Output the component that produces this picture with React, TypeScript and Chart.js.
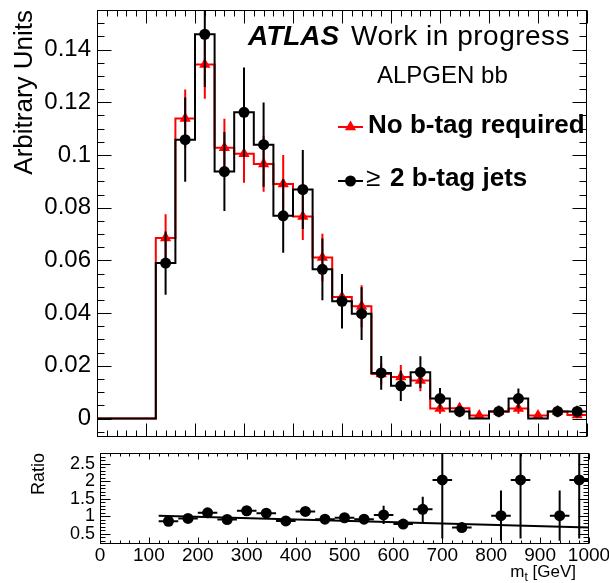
import React, { useEffect, useRef } from 'react';
import { Chart, registerables } from 'chart.js';

Chart.register(...registerables);

const FONT = '"Liberation Sans", Arial, Helvetica, sans-serif';

// ---- data (GeV bins of width 40) ----
const binCenters = [20, 60, 100, 140, 180, 220, 260, 300, 340, 380, 420, 460, 500, 540, 580, 620, 660, 700, 740, 780, 820, 860, 900, 940, 980];
const binHalfWidth = 20;

const noTagValues = [0, 0, 0, 0.0685, 0.1138, 0.1343, 0.1027, 0.1005, 0.0966, 0.089, 0.0767, 0.0611, 0.0461, 0.0426, 0.0169, 0.0158, 0.0144, 0.0038, 0.0039, 0.0012, 0.0027, 0.0038, 0.0012, 0.0027, 0.0013];
const noTagErrors = [0, 0, 0, 0.009, 0.011, 0.013, 0.011, 0.011, 0.0106, 0.011, 0.009, 0.009, 0.008, 0.008, 0.004, 0.0045, 0.004, 0.002, 0.002, 0.0012, 0.0017, 0.002, 0.0012, 0.0017, 0.0012];

const twoTagValues = [0, 0, 0, 0.059, 0.1058, 0.1458, 0.0937, 0.1162, 0.1039, 0.0769, 0.0869, 0.0566, 0.0445, 0.0398, 0.0173, 0.0124, 0.0176, 0.0076, 0.0027, 0, 0.0027, 0.0076, 0, 0.0027, 0.0027];
const twoTagErrors = [0, 0, 0, 0.012, 0.016, 0.02, 0.015, 0.017, 0.016, 0.014, 0.015, 0.0117, 0.0103, 0.01, 0.0064, 0.0057, 0.006, 0.004, 0.0022, 0, 0.0022, 0.0038, 0, 0.0022, 0.0022];

const ratioCenters = [140, 180, 220, 260, 300, 340, 380, 420, 460, 500, 540, 580, 620, 660, 700, 740, 820, 860, 940, 980];
const ratioValues = [0.86, 0.94, 1.1, 0.91, 1.16, 1.09, 0.87, 1.14, 0.92, 0.96, 0.92, 1.04, 0.78, 1.2, 2.04, 0.68, 1.02, 2.04, 1.02, 2.04];
const ratioErrors = [0.06, 0.06, 0.07, 0.07, 0.08, 0.08, 0.08, 0.09, 0.09, 0.1, 0.1, 0.26, 0.1, 0.36, 1.67, 0.1, 0.72, 1.67, 0.72, 1.67];

const fitX = [120, 1000];
const fitY = [1.02, 0.68];

const mainYTicks = [0, 0.02, 0.04, 0.06, 0.08, 0.1, 0.12, 0.14];
const ratioYTicks = [0.5, 1, 1.5, 2, 2.5];
const xTickValues = [0, 100, 200, 300, 400, 500, 600, 700, 800, 900, 1000];

const RED = '#ff0000';
const BLACK = '#000000';

// ---- helpers building Chart.js data from the arrays ----
const last = binCenters.length - 1;
const stepData = (vals: number[]) => [
  ...binCenters.map((c, i) => ({ x: c - binHalfWidth, y: vals[i] })),
  { x: binCenters[last] + binHalfWidth, y: vals[last] },
];
const markerData = (xs: number[], vals: number[]) =>
  xs.map((c, i) => ({ x: c, y: vals[i] > 0 ? vals[i] : null }));
const vErrData = (xs: number[], vals: number[], errs: number[]) =>
  xs.flatMap((c, i) =>
    vals[i] > 0 ? [{ x: c, y: vals[i] - errs[i] }, { x: c, y: vals[i] + errs[i] }, { x: c, y: null }] : []
  );
const hErrData = (xs: number[], vals: number[]) =>
  xs.flatMap((c, i) => [{ x: c - binHalfWidth, y: vals[i] }, { x: c + binHalfWidth, y: vals[i] }, { x: c, y: null }]);

const fmt = (v: any) => String(+Number(v).toFixed(3));

function line(ctx: CanvasRenderingContext2D, x1: number, y1: number, x2: number, y2: number) {
  ctx.beginPath();
  ctx.moveTo(x1, y1);
  ctx.lineTo(x2, y2);
  ctx.stroke();
}

function triangle(ctx: CanvasRenderingContext2D, x: number, y: number, r: number) {
  let rad = 0;
  ctx.beginPath();
  ctx.moveTo(x + Math.sin(rad) * r, y - Math.cos(rad) * r);
  rad += (2 * Math.PI) / 3;
  ctx.lineTo(x + Math.sin(rad) * r, y - Math.cos(rad) * r);
  rad += (2 * Math.PI) / 3;
  ctx.lineTo(x + Math.sin(rad) * r, y - Math.cos(rad) * r);
  ctx.closePath();
  ctx.fill();
}

const topDecor = {
  id: 'topDecor',
  afterDraw(chart: any) {
    const { ctx, chartArea: a, scales } = chart;
    const x = scales.x;
    const y = scales.y;
    ctx.save();
    ctx.strokeStyle = '#000';
    ctx.lineWidth = 1;
    const L = Math.round(a.left) + 0.5;
    const R = Math.round(a.right) - 0.5;
    const T = Math.round(a.top) + 0.5;
    const B = Math.round(a.bottom) - 0.5;
    ctx.strokeRect(L, T, R - L, B - T);
    for (let k = 0; k <= 50; k++) {
      const px = Math.round(x.getPixelForValue(k * 20)) + 0.5;
      const len = k % 5 === 0 ? 13 : 6;
      line(ctx, px, T, px, T + len);
      line(ctx, px, B, px, B - len);
    }
    for (let k = -1; k <= 31; k++) {
      const py = Math.round(y.getPixelForValue(k * 0.005)) + 0.5;
      if (py < a.top || py > a.bottom) continue;
      const len = k % 4 === 0 ? 14 : 7;
      line(ctx, L, py, L + len, py);
      line(ctx, R, py, R - len, py);
    }
    // texts
    ctx.fillStyle = '#000';
    ctx.textAlign = 'left';
    ctx.textBaseline = 'alphabetic';
    ctx.font = `italic bold 28px ${FONT}`;
    ctx.fillText('ATLAS', 248, 45);
    ctx.font = `28px ${FONT}`;
    (ctx as any).letterSpacing = '0.5px';
    ctx.fillText('Work in progress', 351, 45);
    (ctx as any).letterSpacing = '0px';
    ctx.font = `24px ${FONT}`;
    ctx.fillText('ALPGEN bb', 377, 83);
    // legend entry 1
    ctx.strokeStyle = RED;
    ctx.fillStyle = RED;
    ctx.lineWidth = 2;
    line(ctx, 338, 127, 363, 127);
    triangle(ctx, 350.5, 127, 6.5);
    ctx.fillStyle = '#000';
    ctx.font = `bold 26px ${FONT}`;
    ctx.fillText('No b-tag required', 368, 133);
    // legend entry 2
    ctx.strokeStyle = BLACK;
    line(ctx, 338, 181, 363, 181);
    ctx.beginPath();
    ctx.arc(350.5, 181, 5.5, 0, Math.PI * 2);
    ctx.fill();
    ctx.font = `26px ${FONT}`;
    ctx.fillText('≥', 366, 186);
    ctx.font = `bold 26px ${FONT}`;
    ctx.fillText('2 b-tag jets', 390, 186);
    ctx.restore();
  },
};

const bottomDecor = {
  id: 'bottomDecor',
  afterDraw(chart: any) {
    const { ctx, chartArea: a, scales } = chart;
    const x = scales.x;
    const y = scales.y;
    ctx.save();
    ctx.strokeStyle = '#000';
    ctx.lineWidth = 1;
    const L = Math.round(a.left) + 0.5;
    const R = Math.round(a.right) - 0.5;
    const T = Math.round(a.top) + 0.5;
    const B = Math.round(a.bottom) - 0.5;
    ctx.strokeRect(L, T, R - L, B - T);
    for (let k = 0; k <= 50; k++) {
      const px = Math.round(x.getPixelForValue(k * 20)) + 0.5;
      const len = k % 5 === 0 ? 6 : 3;
      line(ctx, px, T, px, T + len);
      line(ctx, px, B, px, B - len);
    }
    for (let k = 3; k <= 28; k++) {
      const py = Math.round(y.getPixelForValue(k / 10)) + 0.5;
      if (py < a.top || py > a.bottom) continue;
      const len = k % 5 === 0 ? 10 : 5;
      line(ctx, L, py, L + len, py);
      line(ctx, R, py, R - len, py);
    }
    // x title m_t [GeV]
    ctx.fillStyle = '#000';
    ctx.textBaseline = 'alphabetic';
    ctx.textAlign = 'left';
    const base = 132;
    ctx.font = `17px ${FONT}`;
    const wm = ctx.measureText('m').width;
    const wRest = ctx.measureText(' [GeV]').width;
    ctx.font = `12px ${FONT}`;
    const wt = ctx.measureText('t').width;
    const start = 576 - (wm + wt + wRest);
    ctx.font = `17px ${FONT}`;
    ctx.fillText('m', start, base);
    ctx.font = `12px ${FONT}`;
    ctx.fillText('t', start + wm, base + 4);
    ctx.font = `17px ${FONT}`;
    ctx.fillText(' [GeV]', start + wm + wt, base);
    ctx.restore();
  },
};

const common = {
  animation: false,
  responsive: false,
  maintainAspectRatio: false,
  events: [] as any[],
  plugins: { legend: { display: false }, tooltip: { enabled: false } },
};

function topConfig(): any {
  return {
    type: 'line',
    data: {
      datasets: [
        { data: stepData(noTagValues), borderColor: RED, borderWidth: 2, stepped: 'before', pointRadius: 0, fill: false, order: 6 },
        { data: vErrData(binCenters, noTagValues, noTagErrors), borderColor: RED, borderWidth: 2, pointRadius: 0, spanGaps: false, fill: false, order: 5 },
        { data: markerData(binCenters, noTagValues), showLine: false, pointStyle: 'triangle', pointRadius: 6.5, pointBackgroundColor: RED, pointBorderWidth: 0, order: 4 },
        { data: stepData(twoTagValues), borderColor: BLACK, borderWidth: 2, stepped: 'before', pointRadius: 0, fill: false, order: 3 },
        { data: vErrData(binCenters, twoTagValues, twoTagErrors), borderColor: BLACK, borderWidth: 2, pointRadius: 0, spanGaps: false, fill: false, order: 2 },
        { data: markerData(binCenters, twoTagValues), showLine: false, pointStyle: 'circle', pointRadius: 5.5, pointBackgroundColor: BLACK, pointBorderWidth: 0, order: 1 },
      ],
    },
    options: {
      ...common,
      layout: { padding: { left: 0, right: 22, top: 10, bottom: 8 } },
      scales: {
        x: { type: 'linear', min: 0, max: 1000, display: false },
        y: {
          type: 'linear',
          min: -0.007,
          max: 0.155,
          afterBuildTicks: (s: any) => { s.ticks = mainYTicks.map((v) => ({ value: v })); },
          afterFit: (s: any) => { s.width = 97; s.paddingTop = 0; s.paddingBottom = 0; },
          grid: { display: false, drawTicks: false },
          border: { display: false },
          ticks: { font: { family: FONT, size: 24 }, color: '#000', padding: 6, autoSkip: false, callback: fmt },
          title: { display: true, text: 'Arbitrary Units', align: 'end', color: '#000', font: { family: FONT, size: 26 }, padding: { top: 9, bottom: 0 } },
        },
      },
    },
    plugins: [topDecor],
  };
}

function bottomConfig(): any {
  return {
    type: 'line',
    data: {
      datasets: [
        { data: fitX.map((v, i) => ({ x: v, y: fitY[i] })), borderColor: BLACK, borderWidth: 2, pointRadius: 0, fill: false, order: 4 },
        { data: hErrData(ratioCenters, ratioValues), borderColor: BLACK, borderWidth: 2, pointRadius: 0, spanGaps: false, fill: false, order: 3 },
        { data: vErrData(ratioCenters, ratioValues, ratioErrors), borderColor: BLACK, borderWidth: 2, pointRadius: 0, spanGaps: false, fill: false, order: 2 },
        { data: markerData(ratioCenters, ratioValues), showLine: false, pointStyle: 'circle', pointRadius: 5.5, pointBackgroundColor: BLACK, pointBorderWidth: 0, order: 1 },
      ],
    },
    options: {
      ...common,
      layout: { padding: { left: 0, right: 20, top: 8, bottom: 0 } },
      scales: {
        x: {
          type: 'linear',
          min: 0,
          max: 1000,
          afterBuildTicks: (s: any) => { s.ticks = xTickValues.map((v) => ({ value: v })); },
          afterFit: (s: any) => { s.height = 39; s.paddingLeft = 0; s.paddingRight = 0; },
          grid: { display: false, drawTicks: false },
          border: { display: false },
          ticks: { font: { family: FONT, size: 19 }, color: '#000', padding: 0, maxRotation: 0, autoSkip: false, callback: fmt },
        },
        y: {
          type: 'linear',
          min: 0.21,
          max: 2.81,
          afterBuildTicks: (s: any) => { s.ticks = ratioYTicks.map((v) => ({ value: v })); },
          afterFit: (s: any) => { s.width = 100; s.paddingTop = 0; s.paddingBottom = 0; },
          grid: { display: false, drawTicks: false },
          border: { display: false },
          ticks: { font: { family: FONT, size: 18 }, color: '#000', padding: 5, autoSkip: false, callback: fmt },
          title: { display: true, text: 'Ratio', align: 'end', color: '#000', font: { family: FONT, size: 18 }, padding: { top: 28, bottom: 0 } },
        },
      },
    },
    plugins: [bottomDecor],
  };
}

export default function App() {
  const topRef = useRef<HTMLCanvasElement>(null);
  const botRef = useRef<HTMLCanvasElement>(null);
  useEffect(() => {
    const c1 = new Chart(topRef.current as HTMLCanvasElement, topConfig());
    const c2 = new Chart(botRef.current as HTMLCanvasElement, bottomConfig());
    return () => {
      c1.destroy();
      c2.destroy();
    };
  }, []);
  return (
    <div style={{ position: 'absolute', left: 0, top: 0, width: 609, height: 583, background: '#fff' }}>
      <canvas ref={topRef} width={609} height={445} style={{ position: 'absolute', left: 0, top: 0, width: 609, height: 445 }} />
      <canvas ref={botRef} width={609} height={138} style={{ position: 'absolute', left: 0, top: 445, width: 609, height: 138 }} />
    </div>
  );
}
